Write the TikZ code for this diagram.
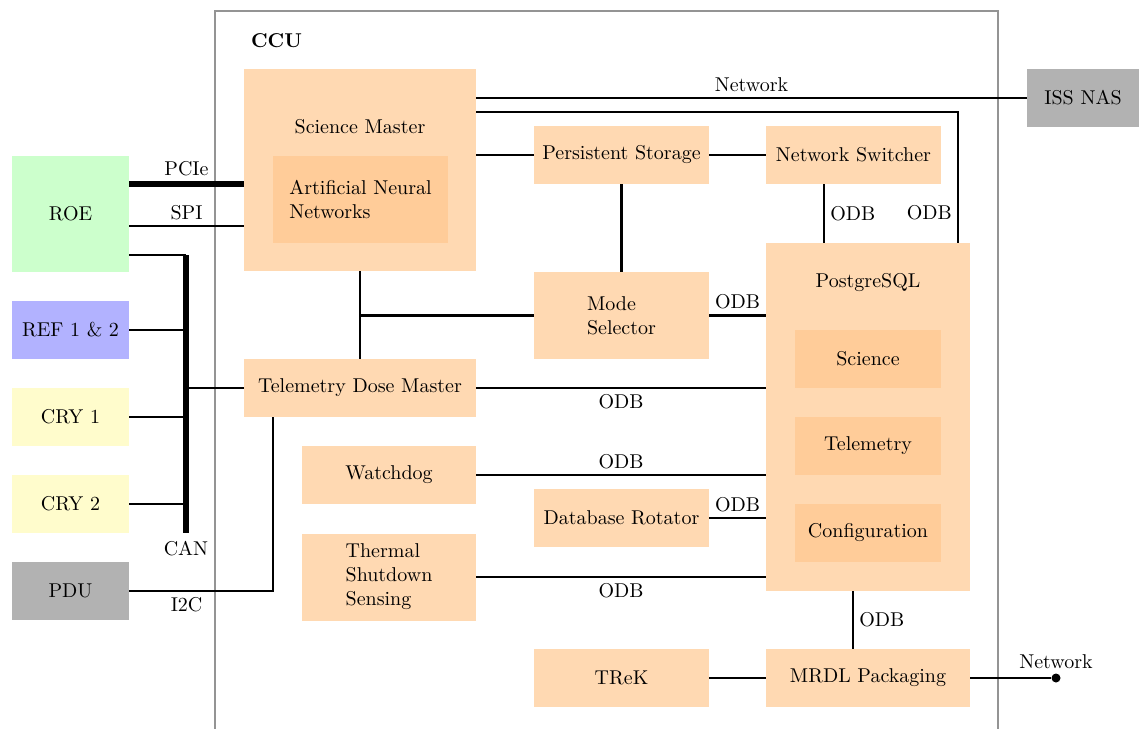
\documentclass[tikz,border=0pt]{standalone}
\usetikzlibrary{calc}
\begin{document}
\begin{tikzpicture}[x=0.5pt,y=-0.5pt,
  blk/.style={fill=orange!30, draw=none, inner sep=0pt, outer sep=0pt, align=center},
  sub/.style={fill=orange!40, draw=none, inner sep=0pt, outer sep=0pt, align=center},
  ext/.style={draw=none, inner sep=0pt, outer sep=0pt, align=center,
              minimum width=58.5pt, minimum height=29pt},
  wire/.style={line width=1.25pt},
  bus/.style={line width=3pt},
  frame/.style={draw=black!42, line width=0.75pt},
  lbl/.style={inner sep=2.5pt}
]
\useasboundingbox (0,0) rectangle (1139,728);

% CCU enclosure
\draw[frame] (215,740) -- (215,11) -- (998,11) -- (998,740);
\node[anchor=west, font=\bfseries] (ccu) at (244,41) {CCU};

% external units
\node[ext, fill=green!20] (roe) at (70.5,214) [minimum height=58pt] {ROE};
\node[ext, fill=blue!30] (ref) at (70.5,330) {REF 1 \& 2};
\node[ext, fill=yellow!20] (cry1) at (70.5,417) {CRY 1};
\node[ext, fill=yellow!20] (cry2) at (70.5,504) {CRY 2};
\node[ext, fill=gray!60] (pdu) at (70.5,591) {PDU};
\node[ext, fill=gray!60, minimum width=56pt] (nas) at (1083,98) {ISS NAS};

% science master
\node[blk, minimum width=116pt, minimum height=101pt] (sm) at (360,170) {};
\node (smtext) at (360,127) {Science Master};
\node[sub, align=left, minimum width=87.5pt, minimum height=43.5pt] (ann) at (360.5,199.5)
  {Artificial Neural\\Networks};

% CCU processes
\node[blk, minimum width=116pt, minimum height=29pt] (tdm) at (360,388) {Telemetry Dose Master};
\node[blk, minimum width=87.5pt, minimum height=29pt] (ps) at (621.5,155) {Persistent Storage};
\node[blk, minimum width=87.5pt, minimum height=29pt] (ns) at (853.5,155) {Network Switcher};
\node[blk, align=left, minimum width=87.5pt, minimum height=43.5pt] (ms) at (621.5,315.5) {Mode\\Selector};
\node[blk, minimum width=87pt, minimum height=29pt] (wd) at (389,475) {Watchdog};
\node[blk, minimum width=87.5pt, minimum height=29pt] (dr) at (621.5,518) {Database Rotator};
\node[blk, align=left, minimum width=87pt, minimum height=43.5pt] (tss) at (389,577) {Thermal\\Shutdown\\Sensing};
\node[blk, minimum width=87.5pt, minimum height=29pt] (trek) at (621.5,678) {TReK};
\node[blk, minimum width=102pt, minimum height=29pt] (mrdl) at (868,678) {MRDL Packaging};

% database
\node[blk, minimum width=102pt, minimum height=174pt] (pg) at (868,417) {};
\node (pgtext) at (868,283) {PostgreSQL};
\node[sub, minimum width=73pt, minimum height=29pt] (sci) at (868,359) {Science};
\node[sub, minimum width=73pt, minimum height=29pt] (tel) at (868,446) {Telemetry};
\node[sub, minimum width=73pt, minimum height=29pt] (conf) at (868,533) {Configuration};

% network end point
\node[circle, fill=black, inner sep=0pt, minimum size=4.5pt,
      label={[inner sep=2pt]above:Network}] (net) at (1056,678) {};

% bus coordinates
\coordinate (cantop) at (186,255);
\coordinate (canbot) at (186,533);

% ROE links
\draw[bus] ($(roe.east)+(0,-30)$) coordinate (pcie) -- (pcie -| sm.west)
  node[midway, above, lbl] {PCIe};
\draw[wire] ($(roe.east)+(0,12)$) coordinate (spi) -- (spi -| sm.west)
  node[midway, above, lbl] {SPI};
\draw[wire] ($(roe.east)+(0,41)$) -- (cantop);

% CAN bus
\draw[bus] (cantop) -- (canbot) node[below, lbl] {CAN};
\draw[wire] (ref.east) -- (ref.east -| cantop);
\draw[wire] (cry1.east) -- (cry1.east -| cantop);
\draw[wire] (cry2.east) -- (cry2.east -| cantop);
\draw[wire] (tdm.west) -- (tdm.west -| cantop);

% I2C
\draw[wire] (pdu.east) -| ($(tdm.south west)+(29,0)$)
  node[pos=0.2, below, lbl] {I2C};

% science master links
\draw[wire] (sm.south) -- (tdm.north);
\draw[wire] (sm.south |- ms.west) -- (ms.west);
\draw[wire] (sm.east |- ps.west) -- (ps.west);
\draw[wire] (ps.east) -- (ns.west);
\draw[wire] (ps.south) -- (ms.north);
\draw[wire] (sm.east |- nas.west) -- (nas.west)
  node[midway, above, lbl] {Network};
\draw[wire] ($(sm.east)+(0,-58)$) -| ($(pg.north east)+(-12,0)$)
  node[pos=0.885, left, lbl] {ODB};
\draw[wire] ($(ns.south)+(-29.5,0)$) coordinate (nsodb) -- (nsodb |- pg.north)
  node[midway, right, lbl] {ODB};

% ODB links into the database
\draw[wire] (ms.east) -- (ms.east -| pg.west) node[midway, above, lbl] {ODB};
\draw[wire] (tdm.east) -- (tdm.east -| pg.west) node[midway, below, lbl] {ODB};
\draw[wire] (wd.east) -- (wd.east -| pg.west) node[midway, above, lbl] {ODB};
\draw[wire] (dr.east) -- (dr.east -| pg.west) node[midway, above, lbl] {ODB};
\draw[wire] (tss.east) -- (tss.east -| pg.west) node[midway, below, lbl] {ODB};

% packaging
\draw[wire] ($(pg.south)+(-15,0)$) coordinate (pgodb) -- (pgodb |- mrdl.north)
  node[midway, right, lbl] {ODB};
\draw[wire] (trek.east) -- (mrdl.west);
\draw[wire] (mrdl.east) -- (net);
\end{tikzpicture}
\end{document}
